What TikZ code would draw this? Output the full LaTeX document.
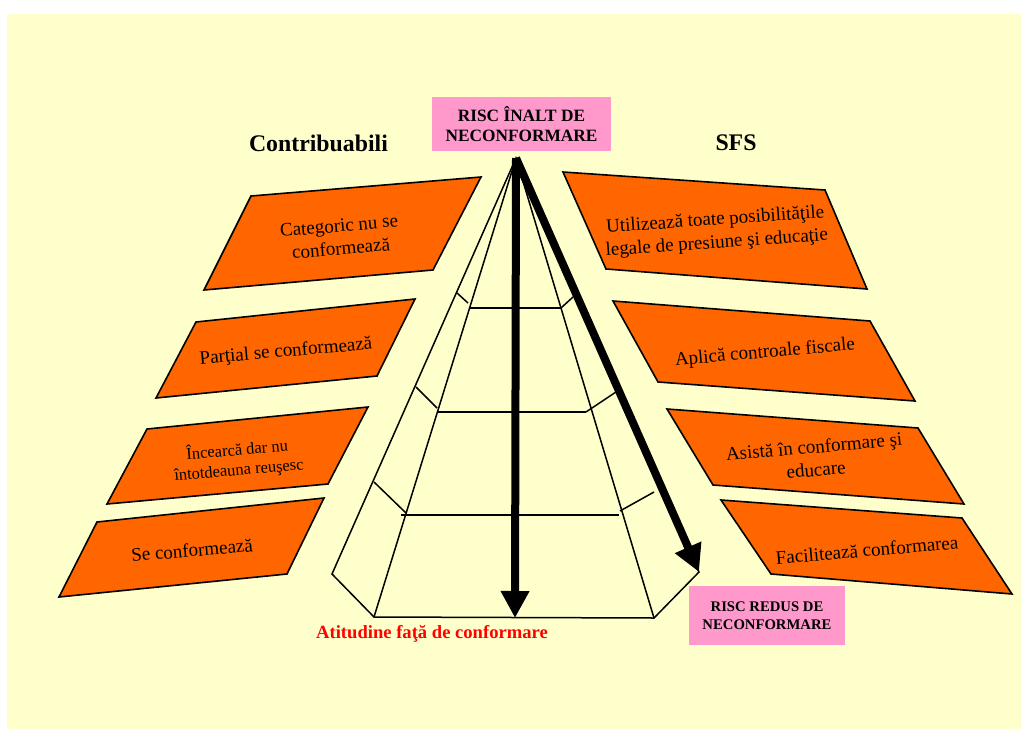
\documentclass[tikz,border=0pt]{standalone}
\usepackage{fontspec}
\usepackage{tikz}
\usetikzlibrary{arrows.meta}
\setmainfont{Liberation Serif}
\definecolor{bgyellow}{HTML}{FFFFCC}
\definecolor{panelorange}{HTML}{FF6600}
\definecolor{riskpink}{HTML}{FF99CC}
\tikzset{
  panel/.style={draw=black, fill=panelorange, line width=1.6pt, line join=miter},
  paneltext/.style={align=center, rotate=5, inner sep=0pt, font=\fontsize{19}{23}\selectfont},
  risk/.style={fill=riskpink, align=center, inner sep=0pt, font=\bfseries\fontsize{17.3}{20.5}\selectfont},
  heading/.style={inner sep=0pt, font=\bfseries\fontsize{23.8}{28}\selectfont},
  pyr/.style={line width=1.5pt, line join=miter},
  bigarrow/.style={line width=8pt, -{Triangle[width=27pt,length=27pt]}}
}
\begin{document}
\begin{tikzpicture}[x=1pt, y=-1pt]
      \useasboundingbox (0,0) rectangle (1021,729);
      \fill [bgyellow] (7,14) rectangle (1021,729);

      % panels, left and right
      \foreach \i/\a/\b/\c/\d in {
        1/{251,196}/{481,177}/{433,270}/{204,290},
        2/{196,322}/{415,299}/{377,376}/{156,398},
        3/{147,429}/{368,407}/{328,484}/{107,504},
        4/{97,522}/{324,498}/{287,574}/{59,597},
        5/{563,172}/{825,190}/{867,289}/{606,269},
        6/{613,301}/{870,321}/{915,401}/{658,382},
        7/{667,409}/{918,428}/{964,504}/{713,485},
        8/{721,500}/{962,518}/{1012,594}/{771,574}}
      {
        \draw [panel] (\a) -- (\b) -- (\c) -- (\d) -- cycle;
      }

      \node [paneltext] (c1) at (340,237) {Categoric nu se\\conformează};
      \node [paneltext] (c2) at (286,352) {Parţial se conformează};
      \node [paneltext, font=\fontsize{16.5}{20}\selectfont] (c3) at (238,460) {Încearcă dar nu\\întotdeauna reuşesc};
      \node [paneltext] (c4) at (192,550) {Se conformează};
      \node [paneltext, rotate=-1] (f1) at (716,232) {Utilizează toate posibilităţile\\legale de presiune şi educaţie};
      \node [paneltext] (f2) at (765,353) {Aplică controale fiscale};
      \node [paneltext] (f3) at (815,458) {Asistă în conformare şi\\educare};
      \node [paneltext] (f4) at (867,550) {Facilitează conformarea};

      \node [heading] (contrib) at (318.5,143) {Contribuabili};
      \node [heading] (sfs) at (736,143) {SFS};
      \node [risk, minimum width=179pt, minimum height=54pt] (high) at (521.5,124) {RISC ÎNALT DE\\NECONFORMARE};
      \node [risk, minimum width=156pt, minimum height=59pt, font=\bfseries\fontsize{14.7}{17.5}\selectfont] (low) at (767,615.5) {RISC REDUS DE\\NECONFORMARE};
      \node [inner sep=0pt, text=red, font=\bfseries\fontsize{18.6}{22}\selectfont] (attitude) at (432,634) {Atitudine faţă de conformare};

      % pyramid
      \coordinate (apex) at (516,158);
      \coordinate (bl) at (332,574);
      \coordinate (il) at (374,617);
      \coordinate (ir) at (654,618);
      \coordinate (br) at (699,572);
      \coordinate (mid) at (515,618);

      \draw [pyr] (apex) -- (bl) -- (il) -- (ir) -- (br) -- cycle;
      \draw [pyr] (apex) -- (il);
      \draw [pyr] (apex) -- (ir);

      \foreach \p/\q in {
        {470,308}/{561,308},
        {438,412}/{586,412},
        {401,515}/{619,515},
        {457,293}/{468,303},
        {561,308}/{573,297},
        {416,387}/{437,408},
        {586,412}/{616,392},
        {374,482}/{406,513},
        {620,511}/{654,492}}
      {
        \draw [pyr] (\p) -- (\q);
      }

      \draw [bigarrow] (apex) -- (mid);
      \draw [bigarrow] (apex) -- (br);
    \end{tikzpicture}
\end{document}
